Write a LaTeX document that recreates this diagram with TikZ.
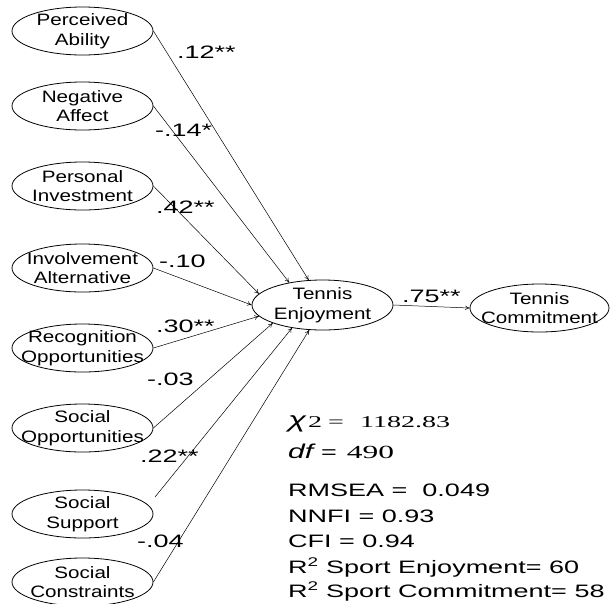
\documentclass[tikz,border=0pt]{standalone}
\usepackage{fontspec}
\usetikzlibrary{arrows.meta,shapes.geometric}
\newfontfamily\elfont[FakeStretch=1.25]{Liberation Sans}
\newfontfamily\lbfont[FakeStretch=1.5]{Liberation Sans}
\newfontfamily\sefont[FakeStretch=1.7]{Liberation Serif}
\begin{document}
\begin{tikzpicture}[x=1pt,y=-1pt,
  var/.style={draw,ellipse,line width=0.8pt,minimum width=141pt,minimum height=48pt,inner sep=0pt},
  vtext/.style={inner sep=0pt,align=center,font=\elfont\fontsize{16.5}{19.5}\selectfont},
  path/.style={line width=0.5pt,-{To[length=4.5pt,width=4.5pt]}},
  coef/.style={anchor=base west,inner sep=0pt,font=\lbfont\fontsize{18}{20}\selectfont},
  stat/.style={anchor=base west,inner sep=0pt,font=\lbfont\fontsize{18}{20}\selectfont}]
\useasboundingbox (0,0) rectangle (610,603);
% predictors
\node[var] (pa) at (82.5,31) {};
\node[var] (na) at (82.5,106) {};
\node[var] (pi) at (82.5,186) {};
\node[var] (ia) at (82.5,268) {};
\node[var] (ro) at (82.5,348) {};
\node[var] (so) at (82.5,428) {};
\node[var] (ss) at (82.5,514) {};
\node[var] (sc) at (82.5,582) {};
\node[vtext] (tpa) at (pa) {Perceived\\Ability};
\node[vtext] (tna) at (na) {Negative\\Affect};
\node[vtext] (tpi) at (pi) {Personal\\Investment};
\node[vtext] (tia) at (ia) {Involvement\\Alternative};
\node[vtext] (tro) at (ro) {Recognition\\Opportunities};
\node[vtext] (tso) at (so) {Social\\Opportunities};
\node[vtext] (tss) at (ss) {Social\\Support};
\node[vtext] (tsc) at (sc) {Social\\Constraints};
% outcomes
\node[var,minimum height=50pt] (te) at (322.5,305) {};
\node[var,minimum width=139pt] (tc) at (539.5,308) {};
\node[vtext] (tte) at (te) {Tennis\\Enjoyment};
\node[vtext] (ttc) at (tc) {Tennis\\Commitment};
\coordinate (ssout) at (155,497);
% paths
\draw[path] (pa.east) -- (te.119);
\draw[path] (na.east) -- (te.146);
\draw[path] (pi.east) -- (te.170);
\draw[path] (ia.east) -- (te.180);
\draw[path] (ro.east) -- (te.190);
\draw[path] (so.east) -- (te.200);
\draw[path] (ssout) -- (te.217);
\draw[path] (sc.east) -- (te.242);
\draw[path] (te.east) -- (tc.west);
% coefficients
\node[coef] (c1) at (177,58) {.12**};
\node[coef] (c2) at (155,136) {-.14*};
\node[coef] (c3) at (156,213) {.42**};
\node[coef] (c4) at (159,267) {-.10};
\node[coef] (c5) at (156,332) {.30**};
\node[coef] (c6) at (147,385) {-.03};
\node[coef] (c7) at (140,462) {.22**};
\node[coef] (c8) at (137,547) {-.04};
\node[coef] (c9) at (402,302) {.75**};
% fit statistics
\node[stat] (s1) at (288,427) {{\fontsize{22}{22}\selectfont\itshape χ}\hspace{2pt}{\sefont\fontsize{16.5}{16.5}\selectfont 2\hspace{6pt}=\hspace{16pt}1182.83}};
\node[stat] (s2) at (288,458) {{\fontsize{20}{20}\selectfont\itshape df}\hspace{8pt}=\hspace{10pt}{\sefont\fontsize{18.5}{18.5}\selectfont 490}};
\node[stat] (s3) at (288,496) {RMSEA =\ \ 0.049};
\node[stat] (s4) at (288,522) {NNFI = 0.93};
\node[stat] (s5) at (288,547) {CFI = 0.94};
\node[stat] (s6) at (288,573) {R\textsuperscript{2} Sport Enjoyment= 60};
\node[stat] (s7) at (288,597) {R\textsuperscript{2} Sport Commitment= 58};
\end{tikzpicture}
\end{document}
